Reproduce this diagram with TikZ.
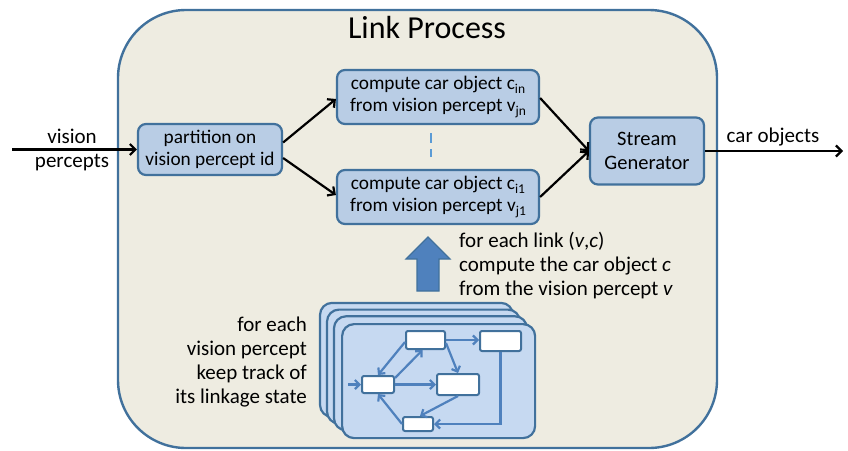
\documentclass[tikz,border=0pt]{standalone}
\usepackage{fontspec}
\setmainfont{Carlito}
\usetikzlibrary{arrows.meta}
\definecolor{tanbg}{HTML}{EEECE1}
\definecolor{bord}{HTML}{41719C}
\definecolor{boxfill}{HTML}{B9CDE5}
\definecolor{stackfill}{HTML}{C6D9F1}
\definecolor{arrblue}{HTML}{4F81BD}
\definecolor{dashblue}{HTML}{5B9BD5}
\newcommand\mysub[1]{\raisebox{-0.45ex}{\fontsize{13.5}{13.5}\selectfont #1}}
\begin{document}
\begin{tikzpicture}[x=1pt,y=-1pt,
  procbox/.style={draw=bord, fill=boxfill, line width=2.2pt, rounded corners=8pt, align=center, inner sep=0pt, font=\fontsize{19.3}{22}\selectfont},
  flow/.style={line width=2.2pt, -{Straight Barb[length=5.5pt,width=11pt]}},
  lbl/.style={font=\fontsize{21}{24}\selectfont, inner sep=0pt},
  st/.style={draw=bord, fill=white, line width=2pt, rounded corners=2pt, inner sep=0pt},
  sflow/.style={draw=arrblue, line width=2.2pt, -{Straight Barb[length=4.5pt,width=9pt]}},
  stk/.style={draw=bord, fill=stackfill, line width=2.2pt, rounded corners=12pt}
]
\useasboundingbox (0,0) rectangle (848,450);
% outer process box
\draw[draw=bord, fill=tanbg, line width=2.4pt, rounded corners=68pt] (118,10) rectangle (717,448);
\node[font=\fontsize{32}{36}\selectfont, inner sep=0pt, anchor=base] (title) at (427,38.5) {Link Process};

% main boxes
\node[procbox, minimum width=144pt, minimum height=51pt] (part) at (210,149.5) {partition on\\vision percept id};
\node[procbox, minimum width=202pt, minimum height=54pt] (top) at (438,97) {compute car object c\mysub{in}\\from vision percept v\mysub{jn}};
\node[procbox, minimum width=202pt, minimum height=54pt] (bot) at (438,197) {compute car object c\mysub{i1}\\from vision percept v\mysub{j1}};
\node[procbox, minimum width=114pt, minimum height=67pt, font=\fontsize{20.5}{24}\selectfont] (stream) at (647,151) {Stream\\Generator};

% labels
\node[lbl, align=center] (vislbl) at (72,150) {vision\\percepts};
\node[lbl, anchor=base] (carlbl) at (773,142) {car objects};
\node[lbl, align=left, anchor=west] (linklbl) at (459,266) {for each link (\textit{v},\textit{c})\\compute the car object \textit{c}\\from the vision percept \textit{v}};
\node[lbl, align=right, anchor=east, font=\fontsize{21}{23.7}\selectfont] (tracklbl) at (307,362) {for each\\vision percept\\keep track of\\its linkage state};

% connectors
\coordinate (inpt) at (12,149.5);
\coordinate (outpt) at (843,151);
\draw[flow] (inpt) -- (part.west);
\draw[flow] ([yshift=7pt]part.east) -- ([yshift=-2pt]top.west);
\draw[flow] ([yshift=-8.5pt]part.east) -- ([yshift=2pt]bot.west);
\draw[flow] ([yshift=-1pt]top.east) -- (stream.west);
\draw[flow] (bot.east) -- (stream.west);
\draw[flow] (stream.east) -- (outpt);
\draw[dashblue, line width=2.2pt, dash pattern=on 10pt off 6pt] ([xshift=-7pt,yshift=-8pt]top.south) -- ([xshift=-7pt,yshift=12pt]bot.north);

% big up arrow
\draw[fill=arrblue, draw=bord, line width=1.2pt] (428,237) -- (450,259) -- (439,259) -- (439,291) -- (417,291) -- (417,259) -- (406,259) -- cycle;

% stack of state machines
\foreach \i in {3,2,1} {
  \draw[stk] (341-7*\i, 323-6.7*\i) rectangle (534-7*\i, 437-6.7*\i);
}
\node[stk, minimum width=193pt, minimum height=114pt, inner sep=0pt, anchor=north west] (front) at (341,323) {};

\node[st, minimum width=39pt, minimum height=18pt] (A) at (425.5,340) {};
\node[st, minimum width=41pt, minimum height=20pt] (B) at (500.5,341) {};
\node[st, minimum width=32pt, minimum height=17pt] (C) at (378,384.5) {};
\node[st, minimum width=42pt, minimum height=21pt] (D) at (458,384.5) {};
\node[st, minimum width=30pt, minimum height=14pt] (E) at (418,424) {};

\coordinate (cin) at (348,384.5);
\draw[sflow] (cin) -- (C.west);
\draw[sflow] ([yshift=-2pt]A.west) -- (C.north);
\draw[sflow] ([yshift=-3pt]C.north east) -- ([xshift=-3pt]A.south);
\draw[sflow] (A.east) -- (A.east -| B.west);
\draw[sflow] ([yshift=-3pt]A.east) -- (D.north);
\draw[sflow] (C.east) -- (D.west);
\draw[sflow] (D.south) -- ([xshift=2pt]E.north);
\draw[sflow] (E.west) -- (C.south);
\draw[sflow] (B.south) |- (E.east);
\end{tikzpicture}
\end{document}
